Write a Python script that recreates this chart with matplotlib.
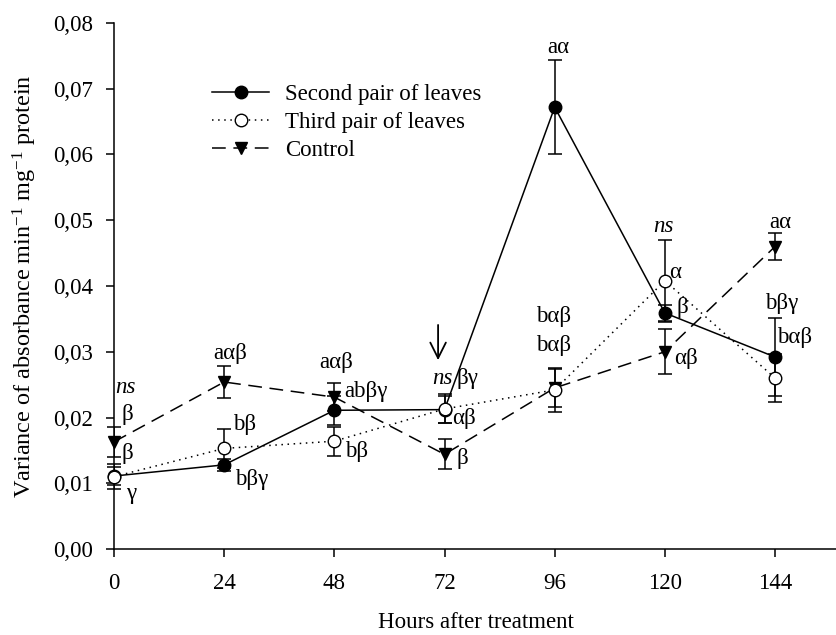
import matplotlib
matplotlib.use("Agg")
import matplotlib.pyplot as plt

plt.rcParams["font.family"] = ["Liberation Serif", "DejaVu Serif"]
plt.rcParams["mathtext.fontset"] = "custom"
plt.rcParams["mathtext.rm"] = "Liberation Serif"
plt.rcParams["mathtext.it"] = "Liberation Serif:italic"

# Sampling times (hours after treatment)
hours = [0, 24, 48, 72, 96, 120, 144]

# Mean variance of absorbance and standard errors
second_pair = [0.0111, 0.0128, 0.0211, 0.0212, 0.0672, 0.0359, 0.0292]
second_err = [0.0014, 0.0009, 0.0022, 0.0021, 0.0072, 0.0012, 0.0060]

third_pair = [0.0110, 0.0153, 0.0164, 0.0213, 0.0242, 0.0408, 0.0260]
third_err = [0.0019, 0.0030, 0.0022, 0.0022, 0.0033, 0.0062, 0.0037]

control = [0.0163, 0.0254, 0.0231, 0.0144, 0.0245, 0.0300, 0.0460]
control_err = [0.0023, 0.0025, 0.0021, 0.0023, 0.0029, 0.0034, 0.0020]

series_names = ["Second pair of leaves", "Third pair of leaves", "Control"]
x_ticks = [0, 24, 48, 72, 96, 120, 144]
y_ticks = [0.00, 0.01, 0.02, 0.03, 0.04, 0.05, 0.06, 0.07, 0.08]
y_tick_labels = ["0,00", "0,01", "0,02", "0,03", "0,04", "0,05", "0,06", "0,07", "0,08"]

# Significance letters: (text, hour, value, horizontal alignment, italic)
letters = [
    ("ns", 0.3, 0.0246, "left", True),
    ("β", 1.7, 0.0204, "left", False),
    ("β", 1.7, 0.0146, "left", False),
    ("γ", 2.6, 0.0085, "left", False),
    ("aαβ", 25.3, 0.0298, "center", False),
    ("bβ", 25.9, 0.0189, "left", False),
    ("bβγ", 26.4, 0.0105, "left", False),
    ("aαβ", 48.3, 0.0284, "center", False),
    ("abβγ", 50.1, 0.0240, "left", False),
    ("bβ", 50.3, 0.0149, "left", False),
    ("ns", 69.3, 0.0260, "left", True),
    ("βγ", 74.7, 0.0260, "left", False),
    ("αβ", 73.6, 0.0199, "left", False),
    ("β", 74.7, 0.0138, "left", False),
    ("bαβ", 95.7, 0.0353, "center", False),
    ("bαβ", 95.7, 0.0310, "center", False),
    ("aα", 96.8, 0.0762, "center", False),
    ("ns", 119.6, 0.0490, "center", True),
    ("α", 121.0, 0.0421, "left", False),
    ("β", 122.6, 0.0368, "left", False),
    ("αβ", 122.0, 0.0289, "left", False),
    ("aα", 145.1, 0.0497, "center", False),
    ("bβγ", 145.5, 0.0373, "center", False),
    ("bαβ", 144.4, 0.0321, "left", False),
]

FS = 16.5

fig = plt.figure(figsize=(8.37, 6.35), dpi=100)
ax = fig.add_axes([0.1362, 0.1354, 0.8638, 0.8284])

common = dict(color="black", ecolor="black", elinewidth=1.1, capsize=5,
              capthick=1.1, markersize=9, linewidth=1.1)

eb_second = ax.errorbar(hours, second_pair, yerr=second_err, fmt="o", linestyle="-",
                        markerfacecolor="black", markeredgecolor="black",
                        zorder=4, **common)
eb_third = ax.errorbar(hours, third_pair, yerr=third_err, fmt="o", linestyle=(0, (1, 3)),
                       markerfacecolor="white", markeredgecolor="black",
                       zorder=5, **common)
eb_control = ax.errorbar(hours, control, yerr=control_err, fmt="v", linestyle=(0, (9, 5)),
                         markerfacecolor="black", markeredgecolor="black",
                         zorder=3, **common)

for text, hx, val, ha, italic in letters:
    ax.text(hx, val, text, ha=ha, va="center", fontsize=FS,
            style="italic" if italic else "normal", zorder=6)

# Arrow marking the 72 h time point
ax.annotate("", xy=(70.6, 0.0283), xytext=(70.6, 0.0345),
            arrowprops=dict(arrowstyle="->", color="black", lw=1.3,
                            mutation_scale=28))

ax.set_xlim(0, 157.5)
ax.set_ylim(0, 0.08)
ax.set_xticks(x_ticks)
ax.set_yticks(y_ticks)
ax.set_yticklabels(y_tick_labels)
ax.tick_params(axis="x", direction="out", length=6, width=1.1,
               labelsize=FS, pad=11)
ax.tick_params(axis="y", direction="out", length=6, width=1.1,
               labelsize=FS, pad=9)
ax.spines["top"].set_visible(False)
ax.spines["right"].set_visible(False)
for s in ("left", "bottom"):
    ax.spines[s].set_linewidth(1.1)

ax.set_xlabel("Hours after treatment", fontsize=FS, labelpad=13)
ax.set_ylabel("Variance of absorbance min$^{-1}$ mg$^{-1}$ protein",
              fontsize=FS + 1, labelpad=10)

ax.legend([eb_second[0], eb_third[0], eb_control[0]], series_names,
          loc="upper left", bbox_to_anchor=(212 / 837, 1 - 84 / 635),
          bbox_transform=fig.transFigure, frameon=False,
          fontsize=FS, handlelength=2.5, handletextpad=0.7,
          labelspacing=0.3, borderpad=0, borderaxespad=0)

for line in ax.get_lines():
    line.set_clip_on(False)

fig.savefig("out.png", dpi=100)
